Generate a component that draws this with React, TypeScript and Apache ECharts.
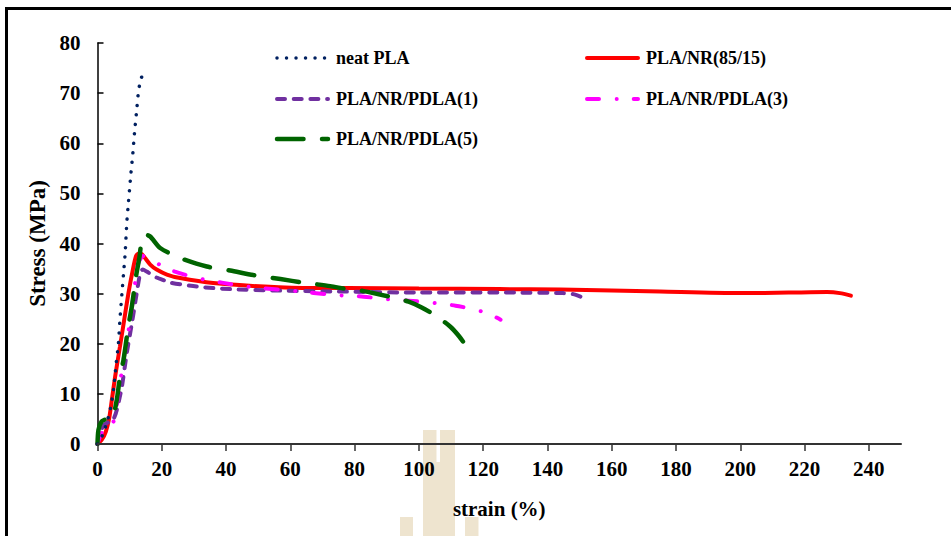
import React, { useEffect, useRef } from "react";
import * as echarts from "echarts";

const strainTicks = [0, 20, 40, 60, 80, 100, 120, 140, 160, 180, 200, 220, 240];
const stressTicks = [0, 10, 20, 30, 40, 50, 60, 70, 80];

const seriesNames = ["neat PLA", "PLA/NR(85/15)", "PLA/NR/PDLA(1)", "PLA/NR/PDLA(3)", "PLA/NR/PDLA(5)"];

const neatStrain = [0, 1, 2, 3, 4, 5, 5.8, 6.5, 7, 7.6, 8.1, 8.6, 9.1, 9.6, 10.4, 11, 11.5, 12.1, 12.7, 13.2, 13.8, 14.3];
const neatStress = [0, 1, 2.5, 4.5, 7, 11, 16, 20, 25, 30, 34, 38, 44, 48, 54, 58, 62, 66, 70, 72, 73.3, 73.8];

const redStrain = [0, 1.3, 2.6, 3.6, 4.4, 5.5, 7, 8, 9.6, 11, 12, 12.8, 13.8, 14.8, 16.4, 18.4, 21.6, 25.7, 36, 52, 67, 78, 100, 125, 144, 160, 175, 200, 215, 227, 231, 234.4];
const redStress = [0, 0.8, 2.5, 5, 8.5, 13.5, 19.5, 23.5, 30, 34.8, 37.5, 38, 37.9, 37.1, 35.8, 34.8, 33.8, 33.1, 32.1, 31.4, 31.1, 31.1, 31, 30.9, 30.8, 30.6, 30.4, 30.1, 30.2, 30.3, 30.1, 29.6];

const pdla1Strain = [0, 0.8, 2, 3.9, 5, 6, 7.6, 9.1, 10.7, 12.2, 13.3, 14.1, 15.3, 18.4, 20.5, 22.6, 30.9, 41.3, 56.9, 77.6, 100, 130, 145, 148, 150.3];
const pdla1Stress = [0, 2.1, 3.8, 4.5, 5, 6.8, 11.5, 18.1, 24.1, 30.1, 34.1, 34.8, 34.4, 33.2, 32.7, 32.2, 31.4, 30.9, 30.6, 30.4, 30.2, 30.2, 30.1, 29.9, 29.4];

const pdla3Strain = [0, 0.8, 2.9, 5, 6.5, 8.1, 10.2, 11.7, 12.7, 14.3, 16.4, 19.5, 24.1, 30.9, 38.7, 46.5, 60, 74.5, 82.8, 89.6, 96.8, 103.6, 111.4, 118.1, 122, 125.4];
const pdla3Stress = [0, 1.5, 4.1, 4.5, 10.1, 16.8, 24.8, 32.1, 36.1, 37.5, 37.1, 35.7, 34.4, 33.1, 32.2, 31.4, 30.6, 29.7, 29.4, 28.9, 28.6, 28.2, 27.6, 26.7, 25.9, 24.8];

const pdla5Strain = [0, 0.3, 1.3, 2.9, 4.5, 6, 7, 8.1, 9.6, 10.7, 12, 13.1, 13.8, 14.8, 16.4, 19.5, 25.7, 34, 41.3, 48.5, 56.9, 64.1, 72.4, 77.6, 82.8, 92.1, 96.8, 101, 105.7, 109.8, 112.5, 115];
const pdla5Stress = [0, 2.8, 4.5, 5, 5.1, 8.8, 13.5, 16.8, 23.5, 27.5, 33.5, 37.5, 40.8, 41.8, 41.4, 39.1, 37.1, 35.4, 34.6, 33.7, 32.9, 32.2, 31.5, 30.9, 30.5, 29.2, 28.4, 27.2, 25.4, 23.4, 21.5, 19.3];

const zip = (xs: number[], ys: number[]) => xs.map((x, i) => [x, ys[i]]);

const FONT = "'Liberation Serif', 'Times New Roman', serif";

const NAVY = "#002060";
const RED = "#FF0000";
const PURPLE = "#7030A0";
const MAGENTA = "#FF00FF";
const GREEN = "#006400";

const styles: Record<string, any> = {
  "neat PLA": { color: NAVY, width: 3.5, type: [0.01, 9.5], cap: "round" },
  "PLA/NR(85/15)": { color: RED, width: 4, type: "solid", cap: "round" },
  "PLA/NR/PDLA(1)": { color: PURPLE, width: 4, type: [8, 8.7], cap: "round" },
  "PLA/NR/PDLA(3)": { color: MAGENTA, width: 4, type: [12, 17.7, 0.01, 17], cap: "round" },
  "PLA/NR/PDLA(5)": { color: GREEN, width: 4.5, type: [26.5, 18.5], cap: "round" },
};

function legendItem(name: string, x: number, y: number, dashOffset: number) {
  const s = styles[name];
  return [
    {
      type: "line",
      z: 10,
      shape: { x1: x + 2, y1: y, x2: x + 53, y2: y },
      style: {
        stroke: s.color,
        lineWidth: s.width,
        lineDash: Array.isArray(s.type) ? s.type : null,
        lineDashOffset: dashOffset,
        lineCap: "round",
      },
    },
    {
      type: "text",
      z: 10,
      x: x + 61,
      y: y,
      style: {
        text: name,
        fill: "#000",
        font: `bold 18px ${FONT}`,
        verticalAlign: "middle",
        align: "left",
      },
    },
  ];
}

export default function App() {
  const ref = useRef<HTMLDivElement>(null);
  useEffect(() => {
    if (!ref.current) return;
    const chart = echarts.init(ref.current, null, { renderer: "svg" });
    const data: Record<string, number[][]> = {
      "neat PLA": zip(neatStrain, neatStress),
      "PLA/NR(85/15)": zip(redStrain, redStress),
      "PLA/NR/PDLA(1)": zip(pdla1Strain, pdla1Stress),
      "PLA/NR/PDLA(3)": zip(pdla3Strain, pdla3Stress),
      "PLA/NR/PDLA(5)": zip(pdla5Strain, pdla5Stress),
    };
    const order = ["PLA/NR(85/15)", "PLA/NR/PDLA(1)", "PLA/NR/PDLA(3)", "PLA/NR/PDLA(5)", "neat PLA"];
    const beige = "#eee4cf";
    chart.setOption({
      animation: false,
      backgroundColor: "#fff",
      grid: { left: 97.5, right: 50, top: 43, bottom: 92, containLabel: false, outerBoundsMode: "none" },
      xAxis: {
        type: "value",
        min: 0,
        max: 250,
        interval: 20,
        name: "strain (%)",
        nameLocation: "middle",
        nameGap: 54,
        nameTextStyle: { fontFamily: FONT, fontWeight: "bold", fontSize: 21, color: "#000" },
        axisLine: { show: true, onZero: false, lineStyle: { color: "#333", width: 2 } },
        axisTick: { show: true, inside: false, length: 7, customValues: strainTicks, lineStyle: { color: "#333", width: 1.5 } },
        axisLabel: { customValues: strainTicks, margin: 14, fontFamily: FONT, fontWeight: "bold", fontSize: 21, color: "#000" },
        splitLine: { show: false },
        z: 5,
      },
      yAxis: {
        type: "value",
        min: 0,
        max: 80,
        interval: 10,
        name: "Stress (MPa)",
        nameLocation: "middle",
        nameGap: 43,
        nameRotate: 90,
        nameTextStyle: { fontFamily: FONT, fontWeight: "bold", fontSize: 23, color: "#000" },
        axisLine: { show: true, lineStyle: { color: "#000", width: 1.5 } },
        axisTick: { show: true, inside: true, length: 6, customValues: stressTicks, lineStyle: { color: "#000", width: 1.5 } },
        axisLabel: { customValues: stressTicks, margin: 17, fontFamily: FONT, fontWeight: "bold", fontSize: 21, color: "#000" },
        splitLine: { show: false },
      },
      series: order.map((name) => ({
        type: "line",
        name,
        data: data[name],
        smooth: 0.25,
        showSymbol: false,
        symbol: "none",
        lineStyle: styles[name],
        z: 3,
      })),
      graphic: [
        { type: "rect", z: -20, shape: { x: 423, y: 430, width: 13.5, height: 33 }, style: { fill: beige } },
        { type: "rect", z: -20, shape: { x: 440, y: 430, width: 15, height: 33 }, style: { fill: beige } },
        { type: "rect", z: -20, shape: { x: 423, y: 462, width: 32, height: 80 }, style: { fill: beige } },
        { type: "rect", z: -20, shape: { x: 400, y: 517, width: 13, height: 25 }, style: { fill: beige } },
        { type: "rect", z: -20, shape: { x: 465, y: 517, width: 13.5, height: 25 }, style: { fill: beige } },
        {
          type: "rect",
          z: 20,
          shape: { x: 6.5, y: 8.5, width: 1000, height: 1000 },
          style: { fill: "none", stroke: "#000", lineWidth: 3 },
        },
        ...legendItem("neat PLA", 275, 58, 0),
        ...legendItem("PLA/NR/PDLA(1)", 275, 99, 0),
        ...legendItem("PLA/NR/PDLA(5)", 275, 139, 0),
        ...legendItem("PLA/NR(85/15)", 585, 58, 0),
        ...legendItem("PLA/NR/PDLA(3)", 585, 99, 0),
      ],
    });
    return () => chart.dispose();
  }, []);
  return (
    <div
      ref={ref}
      style={{ position: "fixed", left: 0, top: 0, width: 951, height: 536, background: "#fff" }}
    />
  );
}
